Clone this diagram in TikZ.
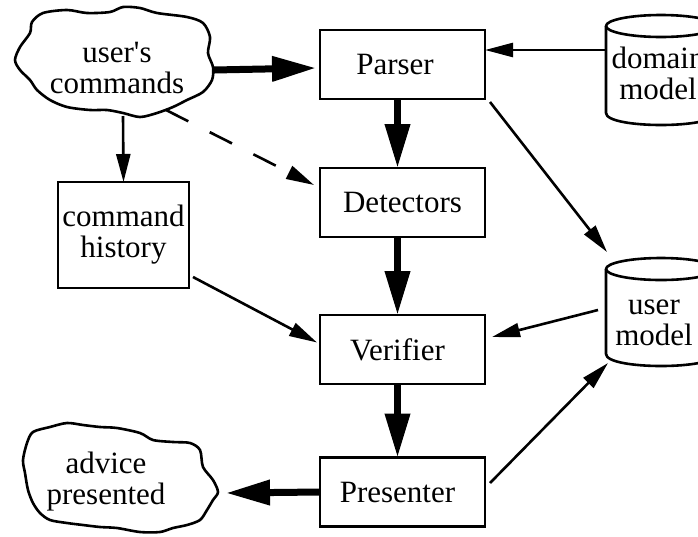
\documentclass[tikz,border=0pt]{standalone}
\usepackage{fontspec}
\setmainfont{Liberation Serif}[Ligatures=TeXOff]
\usetikzlibrary{arrows.meta,calc}
\begin{document}
\begin{tikzpicture}[x=1pt,y=-1pt,
  font=\fontsize{31}{31}\selectfont,
  every node/.style={inner sep=0pt, outer sep=0pt, align=center},
  box/.style={draw, line width=2.6pt, minimum width=165pt, minimum height=69pt},
  outline/.style={line width=2.6pt, line join=round},
  thinarrow/.style={line width=2.6pt, -{Triangle[length=28pt,width=14pt]}},
  thickarrow/.style={line width=7pt, -{Triangle[length=44pt,width=24pt]}},
  dasharrow/.style={thinarrow, dash pattern=on 25pt off 24pt}]
\useasboundingbox (0,0) rectangle (698,536);

% boxes
\node[box] (P)  at (402.5,64.5)  {\raisebox{-3pt}{Parser}\hspace*{15pt}};
\node[box] (D)  at (402.5,202.5) {\raisebox{-2pt}{Detectors}};
\node[box] (V)  at (402.5,349.5) {\raisebox{-2pt}{Verifier}\hspace*{10pt}};
\node[box] (Pr) at (402.5,492)   {\raisebox{-2pt}{Presenter}\hspace*{10pt}};
\node[box, minimum width=131pt, minimum height=106pt] (CH) at (123.5,235) {command\\history};

% clouds
\draw[outline] plot[smooth cycle, tension=0.5] coordinates {
  (32,22) (43,13) (67,10) (87,13) (110,12) (123,7) (140,8) (157,13) (187,17)
  (203,23) (210,37) (208,53) (213,67) (212,80) (203,92) (187,100) (173,107)
  (157,113) (140,117) (123,113) (107,110) (90,110) (67,107) (50,100) (37,90)
  (30,80) (20,70) (15,60) (20,47) (30,33)};
\node (UC) at (117,68) {user's\\commands};

\draw[outline] plot[smooth cycle, tension=0.5] coordinates {
  (33,432) (50,427) (67,423) (83,425) (100,427) (117,428) (140,433) (153,440)
  (173,442) (190,443) (200,450) (203,467) (213,480) (218,492) (213,500)
  (207,510) (200,520) (187,525) (173,528) (160,532) (140,532) (117,528)
  (100,527) (83,525) (67,523) (50,520) (40,513) (33,503) (28,490) (25,473)
  (23,460) (27,443)};
\node (AP) at (106,482) {advice\\presented};

% cylinders
\draw[outline] (661,26) ellipse [x radius=55pt, y radius=11pt];
\draw[outline] (606,26) -- (606,113) .. controls (606,129) and (716,129) .. (716,113) -- (716,26);
\node (DM) at (658,73) {domain\\model};

\draw[outline] (661,269) ellipse [x radius=55pt, y radius=11pt];
\draw[outline] (606,269) -- (606,354) .. controls (606,370) and (716,370) .. (716,354) -- (716,269);
\node (UM) at (654,322.5) {user\\model};

% connector ends on clouds and cylinders
\coordinate (UCe) at (214,70);
\coordinate (UCs) at (123,116);
\coordinate (UCd) at (166,110);
\coordinate (APe) at (226,493);
\coordinate (DMw) at (606,50);
\coordinate (UMnw) at (607,252);
\coordinate (UMw) at (598,310);
\coordinate (UMsw) at (608,363);

% connectors
\draw[thickarrow] (UCe) -- ($(P.west)+(-4,3.5)$);
\draw[thinarrow] (DMw) -- ($(P.east)+(0,-14.5)$);
\draw[thinarrow] (UCs) -- (CH.north);
\draw[dasharrow] (UCd) -- ($(D.north west)+(-6,17)$);
\draw[thickarrow] ($(P.south)+(-5,0)$) -- ($(D.north)+(-5,0)$);
\draw[thickarrow] ($(D.south)+(-5,0)$) -- ($(V.north)+(-5,0)$);
\draw[thickarrow] ($(V.south)+(-5,0)$) -- ($(Pr.north)+(-5,0)$);
\draw[thickarrow] (Pr.west) -- (APe);
\draw[thinarrow] ($(CH.south east)+(4,-11)$) -- ($(V.west)+(-3,-7)$);
\draw[thinarrow] ($(P.south east)+(5,3)$) -- (UMnw);
\draw[thinarrow] (UMw) -- ($(V.east)+(7,-12.5)$);
\draw[thinarrow] ($(Pr.east)+(5,-9)$) -- (UMsw);
\end{tikzpicture}
\end{document}
